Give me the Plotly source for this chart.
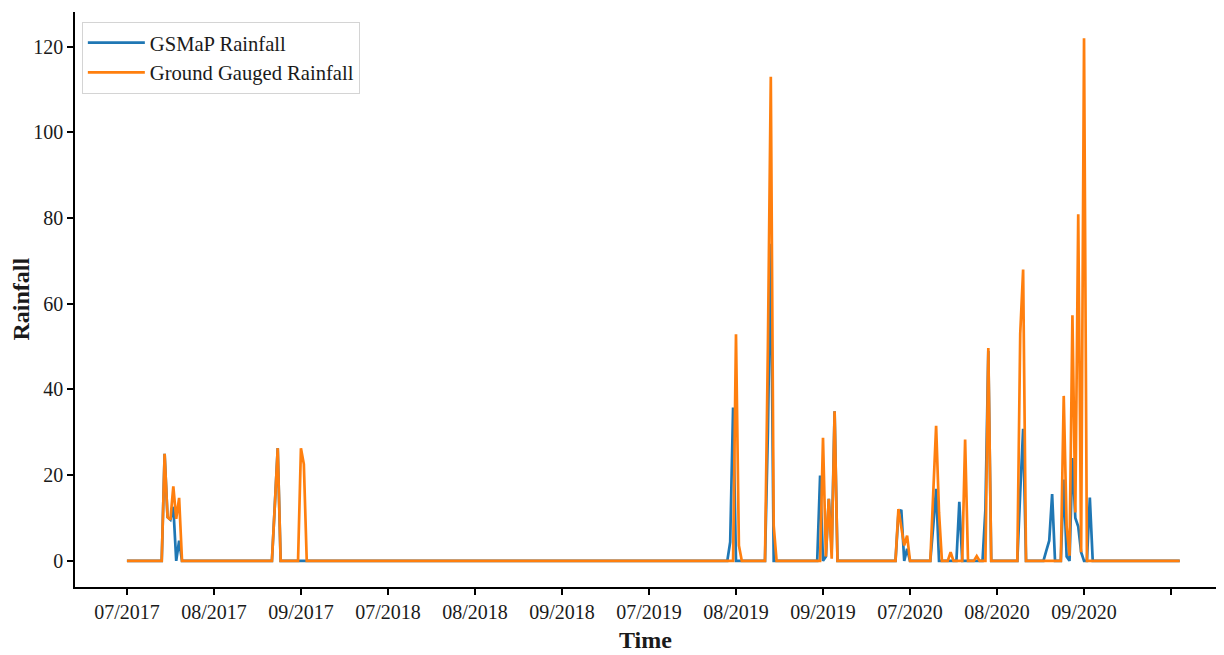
import plotly.graph_objects as go

# ---- data (daily index across Jul-Sep of each year) ----
n_days = 364
tick_positions = [0, 30, 60, 90, 120, 150, 180, 210, 240, 270, 300, 330, 360]
tick_labels = ["07/2017", "08/2017", "09/2017", "07/2018", "08/2018", "09/2018",
               "07/2019", "08/2019", "09/2019", "07/2020", "08/2020", "09/2020", ""]

# non-zero readings (day index -> rainfall); all other days are 0
gsmap_days = [13, 14, 15, 16, 18, 51, 52, 208, 209, 221, 222, 239, 241, 242, 243, 244,
              266, 267, 269, 278, 279, 287, 296, 297, 308, 309, 317, 318, 319,
              323, 324, 326, 327, 328, 329, 332]
gsmap_vals = [25.0, 10.2, 9.6, 12.6, 4.7, 13.0, 26.3, 4.4, 35.8, 30.0, 74.0, 19.9, 1.0, 14.5, 2.8, 34.9,
              11.0, 11.9, 2.8, 8.0, 16.8, 13.8, 12.0, 49.0, 16.0, 30.8, 2.4, 4.7, 15.6,
              19.0, 1.0, 24.0, 10.0, 8.0, 2.0, 14.8]

gauge_days = [13, 14, 15, 16, 17, 18, 51, 52, 60, 61, 210, 211, 221, 222, 223,
              240, 241, 242, 243, 244, 266, 267, 268, 269, 278, 279, 280, 284, 289, 293, 297,
              308, 309, 323, 324, 325, 326, 327, 328, 329, 330]
gauge_vals = [25.0, 10.2, 9.6, 17.4, 9.8, 14.7, 13.0, 26.3, 26.3, 22.6, 52.9, 3.6, 50.0, 113.0, 8.2,
              28.7, 1.0, 14.5, 0.5, 34.9, 12.1, 7.8, 3.6, 5.9, 15.7, 31.5, 11.3, 2.0, 28.3, 1.1, 49.7,
              53.0, 68.0, 38.5, 8.0, 1.2, 57.3, 11.3, 80.9, 2.0, 122.0]

days = list(range(n_days))
gsmap = [0.0] * n_days
for d, v in zip(gsmap_days, gsmap_vals):
    gsmap[d] = v
gauge = [0.0] * n_days
for d, v in zip(gauge_days, gauge_vals):
    gauge[d] = v

FONT = "Liberation Serif, Times New Roman, serif"
TXT = "#1a1a1a"

fig = go.Figure()
fig.add_trace(go.Scatter(x=days, y=gsmap, mode="lines", name="GSMaP Rainfall",
                         line=dict(color="#1f77b4", width=2.7)))
fig.add_trace(go.Scatter(x=days, y=gauge, mode="lines", name="Ground Gauged Rainfall",
                         line=dict(color="#ff7f0e", width=2.7)))

fig.update_layout(
    width=1208, height=647,
    margin=dict(l=67, r=0, t=4, b=68),
    paper_bgcolor="white", plot_bgcolor="white",
    font=dict(family=FONT, size=20, color=TXT),
    showlegend=True,
    legend=dict(x=0.006, y=0.983, xanchor="left", yanchor="top",
                bgcolor="white", bordercolor="#d4d4d4", borderwidth=1,
                font=dict(family=FONT, size=20.6, color=TXT),
                itemwidth=57, tracegroupgap=0),
    xaxis=dict(range=[-17.9, 375.5], tickmode="array", tickvals=tick_positions,
               ticktext=tick_labels, ticks="outside", ticklen=6, tickwidth=1.5,
               tickcolor="black", showline=True, linecolor="black", linewidth=1.5,
               showgrid=False, zeroline=False, automargin=False,
               tickfont=dict(family=FONT, size=20, color=TXT)),
    yaxis=dict(range=[-6.1, 128.1], tickmode="array", tickvals=[0, 20, 40, 60, 80, 100, 120],
               ticks="outside", ticklen=6, tickwidth=1.5, tickcolor="black",
               showline=True, linecolor="black", linewidth=1.5,
               showgrid=False, zeroline=False, automargin=False,
               tickfont=dict(family=FONT, size=20, color=TXT)),
    annotations=[
        dict(text="<b>Time</b>", xref="paper", yref="paper", x=0.5, y=-0.0925,
             xanchor="center", yanchor="middle", showarrow=False,
             font=dict(family=FONT, size=24, color=TXT)),
        dict(text="<b>Rainfall</b>", xref="paper", yref="paper", x=-0.0482, y=0.5,
             xanchor="center", yanchor="middle", showarrow=False, textangle=-90,
             font=dict(family=FONT, size=24, color=TXT)),
    ],
)

fig.write_html("out.html")
